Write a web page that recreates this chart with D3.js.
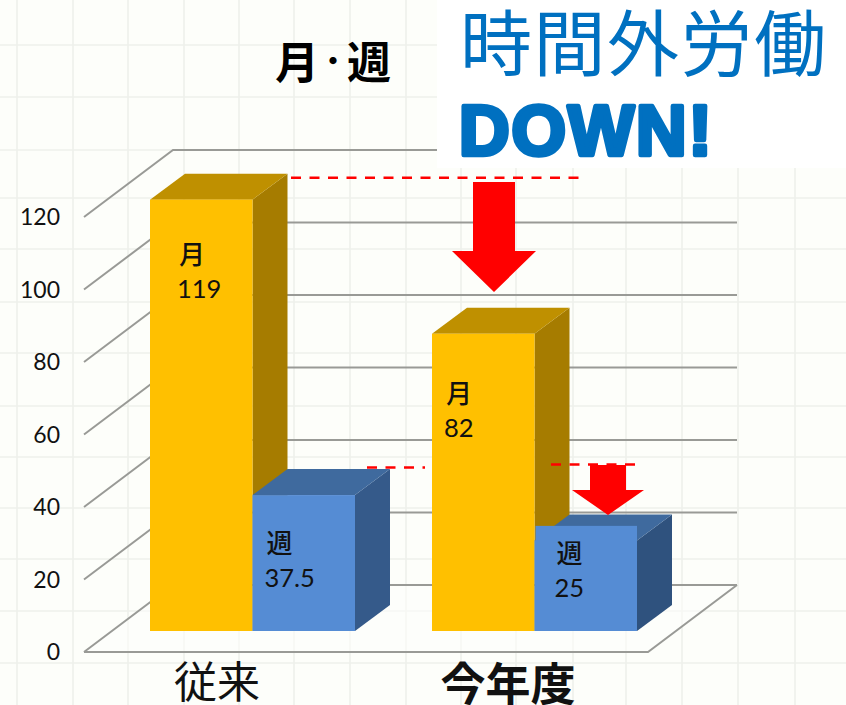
<!DOCTYPE html>
<html lang="ja">
<head>
<meta charset="utf-8">
<title>時間外労働 DOWN!</title>
<script src="https://cdn.jsdelivr.net/npm/d3@7"></script>
<style>
  html, body { margin: 0; padding: 0; background: #fdfefa; }
  svg { display: block; }
</style>
</head>
<body>
<div id="chart"></div>
<script>
const CATEGORIES = ['従来', '今年度'];
const SERIES = ['月', '週'];
const MONTH_VALUES = [119, 82];
const WEEK_VALUES = [37.5, 25];
const Y_TICKS = [0, 20, 40, 60, 80, 100, 120];

// faint graph paper behind the chart
const GRID_X = [17, 73, 128, 184, 239, 294, 350, 406, 461, 516, 573, 626, 682, 738, 795];
const GRID_Y = [45, 97, 150, 198, 249, 302, 353, 406, 457, 508, 559, 611, 663];

const WIDTH = 846;
const HEIGHT = 705;
const FONT_NUM = 'Lato, "Noto Sans", sans-serif';
const FONT_CJK = '"Noto Sans CJK JP", "Noto Sans", sans-serif';
const BLUE_TITLE = '#0070c0';
const RED = '#ff0000';

const WALL = { dx: 89, dy: -67 }; // floor depth
const BAR_DEPTH = { dx: 35, dy: -26 };
const BAR_INSET = 21; // bars sit this far behind the front edge of the floor
const PATCH_VALUE = 29; // the 今年度 週 front face is pasted up a bit over its top

const COLORS = {
  月: { front: '#ffc000', side: '#a67c00', top: '#bf9000' },
  週: { front: '#558cd4', side: '#355a8a', top: '#3f6a9e' },
};

// label offsets from the left of the bar and from the top of its front face
const LABEL_POS = {
  '従来-月': { x: 28, y: 98 },
  '従来-週': { x: 13, y: 92 },
  '今年度-月': { x: 13, y: 103 },
  '今年度-週': { x: 21, y: 57 },
};

const svg = d3.select('#chart').append('svg')
  .attr('width', WIDTH)
  .attr('height', HEIGHT);

const y = d3.scaleLinear().domain([0, 120]).range([652, 217]);
const xCat = d3.scaleBand().domain(CATEGORIES).range([112, 676]);
const xSeries = d3.scaleBand().domain(SERIES).range([38, 243]);

const x0 = 84;
const x1 = 648;

// background grid
svg.append('rect').attr('width', WIDTH).attr('height', HEIGHT).attr('fill', '#fdfefa');
const gridG = svg.append('g')
  .attr('stroke', '#eef0eb')
  .attr('stroke-width', 1.6);
gridG.selectAll('.gx').data(GRID_X).join('line')
  .attr('x1', (d) => d).attr('x2', (d) => d)
  .attr('y1', 0).attr('y2', HEIGHT);
gridG.selectAll('.gy').data(GRID_Y).join('line')
  .attr('x1', 0).attr('x2', WIDTH)
  .attr('y1', (d) => d).attr('y2', (d) => d);

// floor
svg.append('polygon')
  .attr('points', [
    [x0, y(0)], [x1, y(0)],
    [x1 + WALL.dx, y(0) + WALL.dy], [x0 + WALL.dx, y(0) + WALL.dy],
  ].join(' '))
  .attr('fill', '#fefefc')
  .attr('fill-opacity', 0.55);

// wall gridlines and their diagonals
const axisG = svg.append('g')
  .attr('fill', 'none')
  .attr('stroke', '#999a96')
  .attr('stroke-width', 2);
axisG.selectAll('.wall').data(Y_TICKS).join('path')
  .attr('d', (d) => `M${x0},${y(d)}L${x0 + WALL.dx},${y(d) + WALL.dy}H${x1 + WALL.dx}`);
axisG.append('path')
  .attr('d', `M${x0},${y(0)}H${x1}L${x1 + WALL.dx},${y(0) + WALL.dy}`);

// y tick labels
svg.selectAll('.tick-label').data(Y_TICKS).join('text')
  .attr('x', 60)
  .attr('y', (d) => y(d) + 8)
  .attr('text-anchor', 'end')
  .attr('font-family', FONT_NUM)
  .attr('font-size', 23)
  .attr('fill', '#111')
  .text((d) => d);

// bars
const bars = [];
CATEGORIES.forEach((cat, i) => {
  bars.push({ cat, series: '月', value: MONTH_VALUES[i] });
  bars.push({ cat, series: '週', value: WEEK_VALUES[i] });
});

const barG = svg.selectAll('.bar').data(bars).join('g')
  .attr('class', 'bar')
  .attr('transform', (d) => `translate(${xCat(d.cat) + xSeries(d.series)},${y(d.value) - BAR_INSET})`);

const barW = xSeries.bandwidth();
const barH = (d) => y(0) - y(d.value);

barG.append('polygon') // side
  .attr('points', (d) => [
    [barW, 0], [barW + BAR_DEPTH.dx, BAR_DEPTH.dy],
    [barW + BAR_DEPTH.dx, barH(d) + BAR_DEPTH.dy], [barW, barH(d)],
  ].join(' '))
  .attr('fill', (d) => (d.cat === '今年度' && d.series === '週' ? '#2f527e' : COLORS[d.series].side));

barG.append('polygon') // top
  .attr('points', [
    [0, 0], [BAR_DEPTH.dx, BAR_DEPTH.dy],
    [barW + BAR_DEPTH.dx, BAR_DEPTH.dy], [barW, 0],
  ].join(' '))
  .attr('fill', (d) => COLORS[d.series].top);

barG.append('rect') // front
  .attr('width', barW)
  .attr('height', barH)
  .attr('fill', (d) => COLORS[d.series].front);

// pasted patch on the last bar
svg.append('rect')
  .attr('x', xCat('今年度') + xSeries('週') + 1)
  .attr('y', y(PATCH_VALUE) - BAR_INSET)
  .attr('width', barW - 1)
  .attr('height', y(WEEK_VALUES[1]) - y(PATCH_VALUE) + 1)
  .attr('fill', COLORS['週'].front);

// bar labels, two lines each
const labelG = barG.append('g')
  .attr('transform', (d) => {
    const p = LABEL_POS[`${d.cat}-${d.series}`];
    return `translate(${p.x},${p.y})`;
  })
  .attr('fill', '#111');
labelG.append('text')
  .attr('x', 1)
  .attr('y', -34)
  .attr('font-family', FONT_CJK)
  .attr('font-size', 26)
  .attr('font-weight', 500)
  .text((d) => d.series);
labelG.append('text')
  .attr('x', -1)
  .attr('font-family', FONT_NUM)
  .attr('font-size', 25.5)
  .text((d) => d.value);

// category labels
const CAT_STYLE = [
  { dx: -36, size: 43, weight: 400, base: 698 },
  { dx: -27, size: 45, weight: 700, base: 701 },
];
svg.selectAll('.cat-label').data(CATEGORIES).join('text')
  .attr('x', (d) => xCat(d) + xCat.bandwidth() / 2)
  .attr('dx', (d, i) => CAT_STYLE[i].dx)
  .attr('y', (d, i) => CAT_STYLE[i].base)
  .attr('text-anchor', 'middle')
  .attr('font-family', FONT_CJK)
  .attr('font-size', (d, i) => CAT_STYLE[i].size)
  .attr('font-weight', (d, i) => CAT_STYLE[i].weight)
  .attr('fill', '#111')
  .text((d) => d);

// white panel behind the headline
svg.append('rect')
  .attr('x', 437).attr('y', 0)
  .attr('width', WIDTH - 437).attr('height', 168)
  .attr('fill', '#fff');

// chart title. the dot is set smaller so it takes less room
const title = svg.append('text')
  .attr('x', 275)
  .attr('y', 79)
  .attr('font-family', FONT_CJK)
  .attr('font-size', 44)
  .attr('font-weight', 700)
  .attr('fill', '#000');
title.append('tspan').text('月');
title.append('tspan').attr('font-size', 28).attr('dy', -7).text('・');
title.append('tspan').attr('dy', 7).text('週');

// headline
svg.append('text')
  .attr('x', 460)
  .attr('y', 70)
  .attr('font-family', FONT_CJK)
  .attr('font-size', 72)
  .attr('letter-spacing', 1.5)
  .attr('font-weight', 400)
  .attr('fill', BLUE_TITLE)
  .text('時間外労働');

svg.append('text')
  .attr('x', 459)
  .attr('y', 155)
  .attr('font-family', '"Liberation Sans", Arial, sans-serif')
  .attr('font-size', 70)
  .attr('font-weight', 700)
  .attr('letter-spacing', 2)
  .attr('fill', BLUE_TITLE)
  .attr('stroke', BLUE_TITLE)
  .attr('stroke-width', 4.5)
  .attr('stroke-linejoin', 'round')
  .text('DOWN!');

// red dashed guides. they start at the tops of the bars
const backTop = (v) => y(v) - BAR_INSET + BAR_DEPTH.dy;
const guides = [
  { x1: 291, x2: 582, y: backTop(MONTH_VALUES[0]) + 4 },
  { x1: 367, x2: 425, y: backTop(WEEK_VALUES[0]) - 1.5 },
  { x1: 551, x2: 637, y: 464.5 },
];
svg.selectAll('.guide').data(guides).join('line')
  .attr('x1', (d) => d.x1).attr('x2', (d) => d.x2)
  .attr('y1', (d) => d.y).attr('y2', (d) => d.y)
  .attr('stroke', RED)
  .attr('stroke-width', 2.5)
  .attr('stroke-dasharray', '10,8.5');

// down arrows
const arrows = [
  { cx: 494, top: 182, neck: 251, tip: 292, shaft: 21, head: 42 },
  { cx: 608, top: 465, neck: 490, tip: 515, shaft: 18, head: 36 },
];
svg.selectAll('.arrow').data(arrows).join('polygon')
  .attr('points', (d) => [
    [d.cx - d.shaft, d.top], [d.cx + d.shaft, d.top], [d.cx + d.shaft, d.neck],
    [d.cx + d.head, d.neck], [d.cx, d.tip], [d.cx - d.head, d.neck], [d.cx - d.shaft, d.neck],
  ].join(' '))
  .attr('fill', RED);
</script>
</body>
</html>
